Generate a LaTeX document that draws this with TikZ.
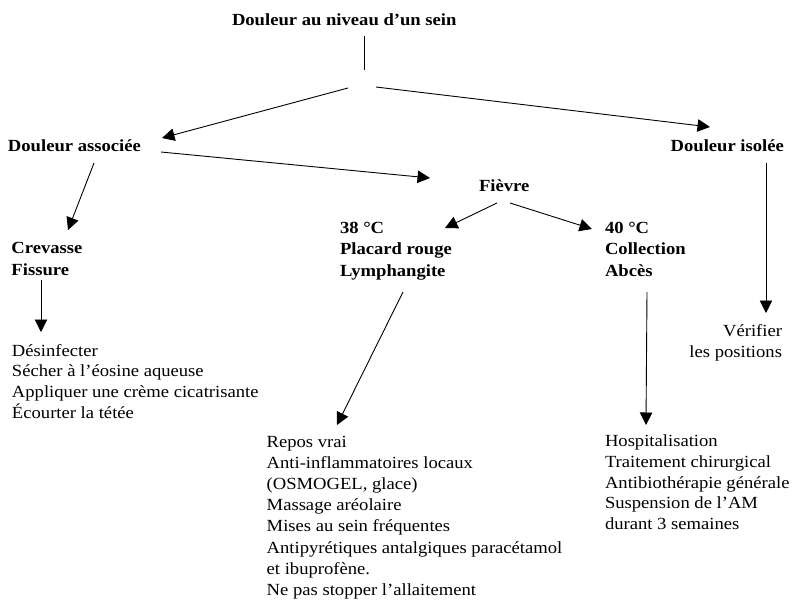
\documentclass[tikz,border=0pt]{standalone}
\usepackage{fontspec}
\setmainfont{Liberation Serif}[FakeStretch=1.095]
\usetikzlibrary{arrows.meta,calc}

% stacked lines whose baseline is the first line's
\newcommand{\stackl}[1]{\begin{tabular}[t]{@{}l@{}}#1\end{tabular}}
\newcommand{\stackr}[1]{\begin{tabular}[t]{@{}r@{}}#1\end{tabular}}

\begin{document}
\begin{tikzpicture}[x=1pt,y=-1pt,
    txt/.style={inner sep=0pt, outer sep=0pt, anchor=base west,
      font=\fontsize{17}{20.7}\selectfont},
    head/.style={txt, font=\fontsize{17}{21.5}\selectfont\bfseries},
    link/.style={line width=0.9pt},
    arr/.style={link, -{Triangle[length=12.5pt,width=12.5pt]}}]
  \useasboundingbox (0,0) rectangle (793,608);

  % headings
  \node[head] (title)  at (232,25.5)   {Douleur au niveau d’un sein};
  \node[head] (assoc)  at (8,151.5)    {Douleur associée};
  \node[head] (isolee) at (670.7,151.7) {Douleur isolée};
  \node[head] (fievre) at (479,191.5)  {Fièvre};
  \node[head] (crev)   at (11.5,253.5) {\stackl{Crevasse\\Fissure}};
  \node[head] (lymph)  at (340,233.3)  {\stackl{38 °C\\Placard rouge\\Lymphangite}};
  \node[head] (abces)  at (605,233.3)  {\stackl{40 °C\\Collection\\Abcès}};

  % care lists
  \node[txt] (soins1) at (12,356) {\stackl{Désinfecter\\Sécher à l’éosine aqueuse\\Appliquer une crème cicatrisante\\Écourter la tétée}};
  \node[txt, font=\fontsize{17}{21.1}\selectfont] (soins2) at (266.7,447.5) {\stackl{Repos vrai\\Anti-inflammatoires locaux\\(OSMOGEL, glace)\\Massage aréolaire\\Mises au sein fréquentes\\Antipyrétiques antalgiques paracétamol\\et ibuprofène.\\Ne pas stopper l’allaitement}};
  \node[txt] (soins3) at (605,446.7) {\stackl{Hospitalisation\\Traitement chirurgical\\Antibiothérapie générale\\Suspension de l’AM\\durant 3 semaines}};
  \node[txt, anchor=base east] (verif) at (782,336.7) {\stackr{Vérifier\\les positions}};

  % split below the title
  \coordinate (fork) at (364,70);
  \draw[link] ($(title.base west)+(132,10.5)$) -- (fork);
  \draw[arr] ($(fork)+(-16,18)$) -- ($(assoc.base west)+(154,-13.5)$);
  \draw[arr] ($(fork)+(12,17)$) -- ($(isolee.base west)+(39.3,-24.7)$);

  % associated pain
  \draw[arr] ($(assoc.base west)+(153,0.5)$) -- ($(fievre.base west)+(-49,-13.5)$);
  \draw[arr] ($(assoc.base west)+(86,11.5)$) -- ($(crev.base west)+(56.5,-23.5)$);
  \draw[arr] ($(crev.base west)+(29.5,26.5)$) -- ($(soins1.base west)+(29,-24)$);

  % fever
  \draw[arr] ($(fievre.base west)+(18,11.5)$) -- ($(lymph.base west)+(105,-5.3)$);
  \draw[arr] ($(fievre.base west)+(31,11.5)$) -- ($(abces.base west)+(-13,-4.3)$);
  \draw[arr] ($(lymph.base west)+(63,58.7)$) -- ($(soins2.base west)+(70.3,-22.5)$);
  \draw[arr] ($(abces.base west)+(42,58.7)$) -- ($(soins3.base west)+(41,-21.7)$);

  % isolated pain
  \draw[arr] ($(isolee.base west)+(95.3,11.3)$) -- ($(verif.base east)+(-16,-23.7)$);
\end{tikzpicture}
\end{document}
